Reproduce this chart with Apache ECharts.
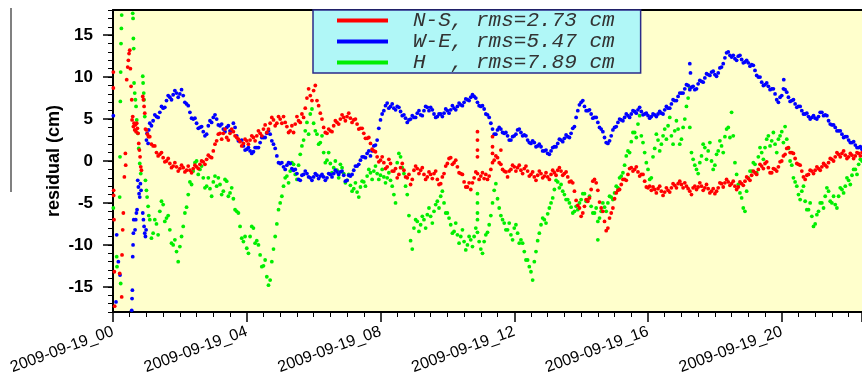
<!DOCTYPE html>
<html><head><meta charset="utf-8">
<script src="https://cdn.jsdelivr.net/npm/echarts@6/dist/echarts.min.js"></script>
<style>html,body{margin:0;padding:0;background:#fff;}#chart{width:862px;height:380px;}</style>
</head><body><div id="chart"></div>
<script>
// Legend labels / series names
const seriesNames = ['N-S, rms=2.73 cm', 'W-E, rms=5.47 cm', 'H  , rms=7.89 cm'];
const seriesColors = ['#ff0000', '#0000ff', '#00ee00'];
// X tick labels (hours of 2009-09-19)
const xTickHours = [0, 4, 8, 12, 16, 20];
const xTickPrefix = '2009-09-19_';
const xMaxHour = 22.4;
const yTickValues = [-15, -10, -5, 0, 5, 10, 15];

// regular samples: hour = 1.1 + i*0.1
const startHour = 1.1, stepHour = 0.1;
// in-between samples: hour = 1.15 + i*0.1
const startHourB = 1.15;

const nsValues = [
 2.9, 1.8, 1.0, 0.8, 0.4, 0.0, -0.3, -0.6, -0.7, -0.9,
 -0.8, -1.1, -1.1, -0.9, -0.7, -0.4, -0.1, 0.2, 0.5, 1.2,
 2.4, 3.3, 3.3, 2.8, 3.3, 3.5, 2.8, 2.3, 2.1, 2.4,
 2.5, 2.8, 3.0, 3.3, 3.8, 3.4, 4.5, 4.9, 4.5, 5.0,
 5.3, 4.1, 3.6, 3.4, 5.3, 4.6, 5.2, 7.5, 7.8, 8.4,
 7.2, 5.7, 4.0, 3.3, 3.6, 4.2, 4.6, 5.0, 5.2, 5.3,
 5.1, 4.9, 4.4, 3.9, 3.3, 2.7, 2.1, 1.2, 0.5, 0.1,
 -0.2, -0.7, -0.3, -1.2, -2.0, -0.8, -1.1, -2.0, -2.8, -1.1,
 -0.9, -1.1, -1.6, -1.9, -1.6, -1.5, -2.2, -2.7, -1.5, -0.3,
 0.4, -0.2, -0.7, -1.5, -2.5, -3.1, -3.4, -2.0, -1.5, -1.8,
 -2.1, -2.2, -1.0, 0.1, 0.4, -0.4, -1.2, -1.9, -1.0, -0.7,
 -0.8, -1.1, -0.9, -1.2, -1.6, -1.9, -1.7, -1.5, -1.8, -1.9,
 -1.6, -1.4, -1.1, -1.2, -1.5, -1.9, -2.4, -3.6, -5.3, -6.6,
 -5.4, -4.8, -3.4, -2.2, -3.5, -5.6, -7.2, -8.0, -6.2, -4.5,
 -3.5, -2.8, -2.2, -1.6, -0.8, -1.0, -1.3, -1.6, -2.4, -3.2,
 -3.5, -3.4, -3.3, -3.6, -3.7, -3.5, -3.2, -2.9, -2.7, -2.8,
 -2.6, -3.3, -4.0, -3.0, -3.1, -3.0, -3.2, -3.3, -3.6, -3.9,
 -3.2, -2.7, -2.6, -2.5, -2.7, -3.0, -3.1, -2.7, -2.4, -2.1,
 -1.7, -1.4, -1.0, -0.6, -0.3, -0.8, -1.4, -1.0, -0.7, 0.0,
 0.8, 1.6, 1.0, 0.3, -0.4, -1.2, -2.2, -1.6, -1.2, -1.1,
 -0.9, -0.7, -0.5, -0.2, 0.2, 0.5, 0.8, 0.9, 0.7, 0.5,
 0.7, 0.6, 0.9, 1.0
];
const nsValuesB = [
 2.0, 1.8, 0.6, 1.0, -0.1, 0.3, -0.8, -0.2, -1.2, -0.5,
 -1.3, -0.6, -1.4, -0.5, -0.9, 0.0, -0.4, 0.7, 0.4, 2.0,
 3.2, 2.6, 3.8, 2.5, 3.8, 3.0, 2.6, 1.8, 2.6, 2.0,
 3.0, 2.4, 3.6, 3.0, 4.3, 3.8, 5.2, 4.2, 5.3, 4.5,
 4.6, 3.4, 4.2, 4.4, 4.8, 5.6, 6.3, 8.6, 7.2, 9.0,
 6.6, 5.0, 3.4, 3.8, 3.5, 4.8, 4.4, 5.5, 4.8, 5.7,
 4.6, 5.0, 3.8, 3.9, 2.7, 2.8, 1.4, 1.1, -0.1, 0.5,
 -0.9, 0.2, -1.2, -0.9, -1.6, -0.3, -1.9, -1.6, -2.2, -0.6,
 -1.5, -0.8, -2.2, -1.3, -2.1, -1.2, -2.8, -1.9, -0.6, 0.3,
 -0.4, 0.1, -1.4, -1.6, -3.1, -2.6, -2.6, -1.3, -2.2, -1.4,
 -1.6, -1.8, -0.2, 0.6, -0.2, -1.0, -1.3, -1.2, -0.5, -1.2,
 -0.5, -1.5, -0.6, -1.8, -1.3, -2.3, -1.2, -2.0, -1.4, -2.2,
 -1.1, -1.7, -0.8, -1.7, -1.3, -2.5, -2.6, -4.7, -5.6, -6.2,
 -4.6, -4.4, -2.4, -2.6, -4.9, -6.0, -8.3, -6.8, -5.6, -3.8,
 -3.4, -2.2, -2.3, -0.9, -1.2, -0.7, -1.8, -1.6, -3.1, -3.0,
 -3.1, -3.8, -3.0, -4.1, -3.2, -3.7, -2.7, -3.2, -2.4, -3.2,
 -3.0, -3.6, -3.2, -3.4, -2.6, -3.5, -2.8, -3.8, -3.3, -3.6,
 -2.6, -3.1, -2.2, -2.9, -2.4, -3.4, -2.5, -2.9, -1.9, -2.3,
 -1.2, -1.6, -0.4, -0.9, -0.1, -1.4, -0.9, -1.2, -0.1, 0.6,
 1.5, 1.0, 0.9, -0.3, -0.5, -1.9, -1.7, -1.1, -1.5, -0.7,
 -1.1, -0.3, -0.7, 0.3, 0.0, 1.0, 0.5, 1.2, 0.3, 0.9,
 0.3, 1.0, 0.6
];
const weValues = [
 4.5, 4.8, 5.3, 5.8, 6.3, 7.2, 7.6, 7.9, 8.1, 8.0,
 7.8, 6.8, 5.8, 5.0, 4.5, 4.0, 3.5, 3.2, 4.8, 5.2,
 5.0, 4.2, 3.8, 4.0, 3.6, 4.5, 3.0, 2.4, 1.8, 1.4,
 1.2, 1.1, 1.6, 2.2, 2.8, 3.3, 3.2, 2.0, 0.6, -0.3,
 -0.7, -0.5, -0.3, -1.1, -1.5, -2.3, -1.6, -1.5, -2.0, -1.9,
 -1.7, -1.8, -1.9, -2.0, -1.6, -1.5, -1.3, -1.3, -1.7, -2.3,
 -1.8, -1.1, -0.6, 0.1, 0.5, 0.9, 0.6, 1.8, 2.5, 4.9,
 6.0, 6.9, 6.5, 6.3, 6.5, 5.9, 5.5, 4.6, 5.0, 5.2,
 5.7, 5.5, 6.0, 6.4, 6.4, 5.6, 5.3, 5.6, 5.7, 6.0,
 6.1, 6.3, 6.5, 6.7, 7.0, 7.3, 7.6, 7.7, 7.0, 6.5,
 6.2, 5.5, 4.5, 3.2, 3.7, 3.8, 3.3, 3.0, 2.5, 3.0,
 3.7, 3.4, 3.1, 2.5, 2.1, 2.2, 1.8, 1.7, 1.2, 0.9,
 1.2, 1.7, 2.1, 2.5, 2.7, 2.9, 3.3, 4.1, 6.0, 7.0,
 6.5, 6.0, 5.6, 5.2, 4.6, 3.8, 2.8, 2.1, 3.0, 4.0,
 4.6, 4.9, 5.2, 5.4, 5.6, 5.9, 6.1, 5.9, 5.6, 5.4,
 5.3, 5.5, 5.6, 5.7, 6.1, 6.3, 6.8, 7.2, 7.7, 8.1,
 8.6, 9.0, 8.8, 8.5, 9.2, 9.5, 9.9, 10.3, 10.6, 10.3,
 10.5, 11.2, 12.3, 13.0, 12.4, 12.2, 12.5, 12.1, 11.8, 11.7,
 11.5, 10.8, 10.0, 9.4, 9.1, 8.9, 8.6, 8.0, 7.0, 7.8,
 8.5, 7.6, 7.2, 6.8, 6.5, 6.0, 5.6, 5.3, 5.2, 5.1,
 5.3, 5.8, 5.5, 4.8, 4.3, 4.0, 3.6, 3.2, 2.9, 2.5,
 2.2, 1.9, 1.6, 1.4
];
const weValuesB = [
 4.2, 5.5, 5.2, 6.5, 6.4, 7.8, 7.3, 8.4, 7.6, 8.5,
 7.0, 6.6, 5.1, 5.1, 3.9, 4.1, 3.0, 4.2, 4.6, 5.5,
 4.3, 4.4, 3.5, 4.2, 3.6, 4.0, 2.4, 2.5, 1.3, 1.6,
 0.9, 1.6, 1.6, 2.8, 2.8, 3.6, 2.4, 1.5, -0.2, -0.2,
 -1.0, -0.2, -0.9, -1.0, -2.2, -1.7, -1.2, -1.9, -2.3, -1.5,
 -2.1, -1.6, -2.3, -1.5, -1.9, -1.1, -1.6, -1.2, -2.4, -1.7,
 -1.6, -0.6, -0.4, 0.5, 0.4, 1.2, 1.2, 1.9, 3.9, 5.6,
 6.6, 6.3, 6.8, 6.1, 6.4, 5.4, 5.1, 4.9, 5.4, 5.2,
 6.0, 5.4, 6.5, 6.0, 6.1, 5.2, 5.6, 5.3, 6.2, 5.7,
 6.6, 6.1, 6.9, 6.6, 7.4, 7.2, 7.9, 7.5, 6.6, 6.6,
 5.6, 5.2, 3.8, 3.2, 4.0, 3.4, 3.4, 2.5, 2.9, 3.2,
 3.8, 3.0, 3.0, 2.2, 2.4, 1.7, 2.0, 1.2, 1.3, 0.8,
 1.6, 1.7, 2.6, 2.3, 3.1, 2.8, 3.9, 5.2, 6.7, 7.2,
 6.0, 6.1, 5.1, 5.2, 4.0, 3.5, 2.2, 2.4, 3.7, 4.1,
 5.0, 4.8, 5.6, 5.2, 6.0, 5.7, 6.4, 5.5, 5.7, 5.1,
 5.6, 5.3, 5.9, 5.6, 6.5, 6.3, 7.3, 7.2, 8.1, 8.1,
 9.1, 8.5, 8.9, 8.6, 9.6, 9.4, 10.4, 10.2, 10.7, 10.1,
 11.1, 11.6, 12.9, 12.6, 12.6, 12.0, 12.6, 11.7, 12.0, 11.3,
 11.4, 10.2, 10.0, 9.0, 9.3, 8.5, 8.6, 7.3, 7.6, 8.6,
 8.2, 7.1, 7.3, 6.4, 6.5, 5.6, 5.7, 5.0, 5.4, 5.0,
 5.8, 5.4, 5.4, 4.4, 4.3, 3.6, 3.6, 2.8, 2.9, 2.2,
 2.3, 1.6, 1.7
];
const hValues = [
 -7.0, -8.6, -7.5, -6.0, -5.2, -6.8, -8.2, -10.0, -10.8, -10.2,
 -7.8, -5.5, -2.5, -1.2, 0.0, -1.0, -2.0, -3.0, -3.3, -2.5,
 -3.0, -2.8, -3.6, -2.4, -3.8, -4.5, -6.0, -7.8, -9.6, -10.4,
 -9.0, -8.0, -9.5, -11.2, -12.5, -13.8, -14.2, -10.5, -7.5, -5.0,
 -3.0, -1.8, -1.2, -0.4, -2.2, 0.8, 2.5, 4.6, 5.6, 4.5,
 3.2, 2.2, 1.0, 0.1, -0.3, -0.8, -1.1, -0.4, -1.5, -2.3,
 -2.9, -3.3, -3.7, -3.1, -2.5, -1.8, -1.4, -1.2, -1.5, -1.7,
 -1.9, -2.0, -2.3, -4.0, -0.2, 0.5, -1.5, -4.0, -9.5, -8.0,
 -7.2, -7.6, -7.0, -6.4, -6.6, -6.0, -4.8, -4.2, -5.0, -6.2,
 -7.6, -8.4, -8.8, -9.0, -9.6, -10.0, -9.4, -9.0, -8.5, -10.5,
 -9.6, -8.5, -6.5, -3.5, -4.5, -6.5, -7.4, -8.2, -8.8, -8.0,
 -8.6, -9.4, -10.8, -11.8, -13.2, -12.0, -9.5, -7.6, -7.0, -6.3,
 -5.0, -3.4, -2.5, -2.8, -4.0, -4.6, -5.5, -6.0, -5.8, -4.6,
 -3.9, -4.6, -5.4, -6.2, -7.2, -6.0, -5.5, -5.0, -4.3, -3.8,
 -3.2, -1.8, -0.5, 1.2, 2.3, 3.4, 4.4, 3.0, 1.0, -1.0,
 -2.0, 1.5, 2.5, 2.0, 3.8, 4.2, 3.0, 3.6, 3.8, 2.6,
 5.0, 7.5, 1.0, -0.5, -1.5, 0.6, 1.6, 1.2, 0.0, -0.5,
 1.2, 1.8, 2.9, 4.0, 5.8, -0.2, -2.8, -4.4, -6.0, -2.0,
 -1.2, -0.4, 0.5, 1.0, 1.6, 3.0, 2.4, 2.0, 2.6, 3.5,
 4.1, 1.5, -0.5, -2.5, -4.0, -3.6, -4.8, -5.8, -6.6, -7.5,
 -6.0, -5.0, -4.2, -3.6, -5.0, -5.2, -4.2, -3.4, -3.0, -2.3,
 -1.7, -1.0, -0.4, 0.0
];
const hValuesB = [
 -9.2, -7.0, -8.8, -4.8, -7.2, -6.5, -9.8, -9.4, -12.0, -9.0,
 -6.2, -4.0, -2.8, -0.2, -1.6, -0.6, -3.2, -2.0, -4.2, -1.8,
 -2.0, -4.0, -2.2, -4.2, -3.2, -5.8, -6.2, -9.2, -9.0, -11.0,
 -7.8, -9.8, -10.0, -12.6, -11.8, -14.8, -12.0, -9.0, -5.8, -4.2,
 -2.0, -2.6, -0.2, -1.6, -0.5, 1.8, 3.6, 3.2, 6.2, 3.6,
 2.0, 3.0, -0.2, 1.0, -1.4, 0.0, -2.0, -0.8, -2.6, -1.6,
 -3.6, -2.6, -4.3, -2.4, -3.0, -1.0, -2.2, -0.6, -2.2, -1.0,
 -2.6, -1.4, -3.0, -5.0, 0.9, -0.8, -3.0, -6.5, -10.5, -7.0,
 -8.4, -6.6, -8.0, -5.6, -7.4, -5.2, -5.6, -3.6, -6.2, -6.8,
 -8.6, -7.4, -9.8, -8.2, -10.6, -9.0, -10.2, -8.0, -9.6, -11.0,
 -8.8, -7.6, -5.0, -2.7, -5.6, -7.0, -8.2, -7.4, -9.4, -7.6,
 -9.8, -9.8, -11.8, -12.6, -14.2, -10.8, -8.6, -6.8, -7.4, -5.6,
 -4.4, -2.3, -3.2, -3.6, -4.6, -5.0, -6.2, -5.4, -5.0, -3.9,
 -4.8, -4.2, -6.2, -5.6, -6.8, -5.0, -6.0, -4.2, -4.6, -3.0,
 -2.0, -1.4, 0.6, 1.0, 3.4, 2.8, 5.4, 2.2, -0.2, -2.2,
 0.5, 3.2, 1.2, 3.0, 2.6, 5.2, 2.0, 4.8, 2.0, 4.0,
 6.5, 4.0, 0.2, -1.0, -0.2, 2.0, 0.2, 2.2, -1.0, 0.8,
 2.4, 1.0, 3.8, 2.8, 3.0, -1.6, -3.8, -5.6, -3.6, -1.2,
 -0.2, -1.4, 1.6, 0.2, 2.6, 1.8, 3.4, 1.0, 3.0, 2.2,
 2.6, 0.0, -2.0, -3.0, -4.6, -3.0, -5.8, -5.0, -7.8, -6.4,
 -5.0, -5.6, -3.2, -4.8, -4.2, -5.6, -3.2, -3.8, -2.0, -2.8,
 -1.0, -1.6, 0.2
];

// irregular samples [hour, value] (start-up period and isolated points)
const nsEarly = [[0.01,10.6],[0.01,8.7],[0.02,-3.5],[0.02,-4.1],[0.03,-7.0],[0.04,-13.2],[0.05,-17.3],
 [0.2,-13.4],[0.26,-16.2],[0.27,-11.2],[0.29,-8.2],[0.31,-6.2],[0.34,-1.9],[0.37,0.9],[0.38,-0.5],
 [0.41,9.7],[0.44,11.2],[0.46,12.0],[0.48,12.8],[0.5,13.2],[0.52,11.0],[0.54,8.9],[0.56,7.3],
 [0.57,4.9],[0.59,5.3],[0.61,4.1],[0.63,4.5],[0.65,3.7],[0.67,4.3],[0.69,3.5],[0.71,4.5],[0.73,3.9],
 [0.75,3.3],[0.77,2.1],[0.79,1.3],[0.81,0.5],[0.83,-0.7],[0.85,-1.1],[0.89,7.7],[0.91,7.3],[0.93,6.5],
 [0.95,5.7],[0.97,3.8],[1.0,3.7],[1.03,3.2],[1.06,2.9]];
const weEarly = [[0.01,5.4],[0.09,-16.8],[0.11,-8.8],[0.16,-12.0],[0.21,-13.6],[0.56,-17.8],[0.57,-16.4],
 [0.58,-15.4],[0.59,-11.4],[0.6,-10.0],[0.61,-8.6],[0.62,-7.0],[0.66,-8.2],[0.68,-7.0],[0.7,-6.2],
 [0.72,-5.8],[0.74,-2.3],[0.76,-3.1],[0.78,-3.9],[0.8,-4.3],[0.82,-2.7],[0.84,-3.5],[0.89,-6.2],
 [0.91,-7.0],[0.93,-7.8],[0.95,-8.6],[0.97,-9.0],[0.99,-8.2],[1.0,2.5],[1.02,3.3],[1.05,2.1],[1.07,3.7]];
const hEarly = [[0.01,-5.6],[0.11,-11.4],[0.12,-12.6],[0.23,-14.6],[0.2,-4.3],[0.21,0.5],[0.22,7.1],
 [0.23,10.6],[0.24,14.0],[0.25,15.8],[0.26,17.4],[0.59,17.6],[0.6,17.0],[0.61,14.6],[0.62,13.4],
 [0.63,9.3],[0.65,8.1],[0.67,7.3],[0.69,6.5],[0.71,4.9],[0.74,3.3],[0.77,1.5],[0.8,-0.3],[0.83,-1.5],
 [0.89,10.1],[0.9,9.3],[0.92,8.1],[0.93,7.3],[0.95,5.3],[0.97,-2.3],[1.0,-3.5],[1.02,-4.3],[1.05,-5.4],[1.07,-6.5]];
const nsExtra = [[10.9,3.5],[10.9,2.5],[10.9,1.3],[10.9,0.5],[11.35,2.9],[11.35,1.7],[11.35,0.9],[11.6,1.3]];
const weExtra = [[17.25,11.6],[17.27,10.5],[20.06,9.7]];
const hExtra = [[10.9,-3.9],[10.9,-5.0],[10.9,-6.2],[10.9,-7.0],[17.25,8.7],[14.5,-9.4]];

function regular(vals, start) { return vals.map((v, i) => [+(start + i * stepHour).toFixed(2), v]); }
const seriesData = [
  nsEarly.concat(regular(nsValues, startHour), regular(nsValuesB, startHourB), nsExtra),
  weEarly.concat(regular(weValues, startHour), regular(weValuesB, startHourB), weExtra),
  hEarly.concat(regular(hValues, startHour), regular(hValuesB, startHourB), hExtra)
];

const chart = echarts.init(document.getElementById('chart'), null, { renderer: 'canvas' });
const axisBlack = { color: '#000', width: 2 };
const option = {
  animation: false,
  backgroundColor: '#ffffff',
  grid: { left: 113, top: 10, right: 0, bottom: 68, show: true, backgroundColor: '#ffffcc', borderWidth: 0 },
  graphic: [{ type: 'line', shape: { x1: 11, y1: 8, x2: 11, y2: 192 }, style: { stroke: '#808080', lineWidth: 2 } }],
  legend: {
    orient: 'vertical', left: 313, top: 10, padding: [0, 26, 0, 24],
    backgroundColor: '#b0f7f7', borderColor: '#2b2b8a', borderWidth: 1.5, borderRadius: 0,
    itemWidth: 51, itemHeight: 4, itemGap: 0, icon: 'rect',
    data: seriesNames,
    textStyle: { fontFamily: 'Liberation Mono', fontStyle: 'italic', fontSize: 21, lineHeight: 20,
                 color: '#333', padding: [0, 0, 0, 20] }
  },
  xAxis: [{
    type: 'value', min: 0, max: xMaxHour, interval: 4, position: 'bottom',
    axisLine: { onZero: false, lineStyle: axisBlack },
    axisTick: { length: 10, lineStyle: { color: '#000', width: 1.5 } },
    minorTick: { show: true, splitNumber: 8, length: 5, lineStyle: { color: '#000', width: 1 } },
    splitLine: { show: false }, minorSplitLine: { show: false },
    axisLabel: { rotate: 20, margin: 19, fontSize: 16, color: '#000', fontFamily: 'Liberation Sans',
                 showMaxLabel: false,
                 formatter: v => xTickHours.includes(v) ? xTickPrefix + String(v).padStart(2, '0') : '' }
  }, {
    type: 'value', min: 0, max: xMaxHour, position: 'top',
    axisLine: { onZero: false, lineStyle: axisBlack },
    axisTick: { show: false }, axisLabel: { show: false }, splitLine: { show: false }
  }],
  yAxis: [{
    type: 'value', min: -18, max: 18, interval: 1,
    name: 'residual (cm)', nameLocation: 'middle', nameGap: 50, nameMoveOverlap: false,
    nameTextStyle: { fontSize: 18, fontWeight: 'bold', color: '#000', fontFamily: 'Liberation Sans' },
    axisLine: { onZero: false, lineStyle: axisBlack },
    axisTick: { length: 5, lineStyle: { color: '#000', width: 1 } },
    splitLine: { show: false },
    axisLabel: { margin: 20, fontSize: 17, fontWeight: 'bold', color: '#000', fontFamily: 'Liberation Sans',
                 formatter: v => yTickValues.includes(v) ? String(v) : '' }
  }, {
    type: 'value', min: -18, max: 18, position: 'left',
    axisLine: { show: false }, splitLine: { show: false },
    axisTick: { show: true, customValues: yTickValues, length: 10, lineStyle: { color: '#000', width: 1.5 } },
    axisLabel: { show: false }
  }],
  series: seriesNames.map((name, k) => ({
    name, type: 'scatter', data: seriesData[k], symbolSize: 3.8, z: 5 - k,
    itemStyle: { color: seriesColors[k], opacity: 1 }, silent: true, large: false
  }))
};
chart.setOption(option);
</script></body></html>
